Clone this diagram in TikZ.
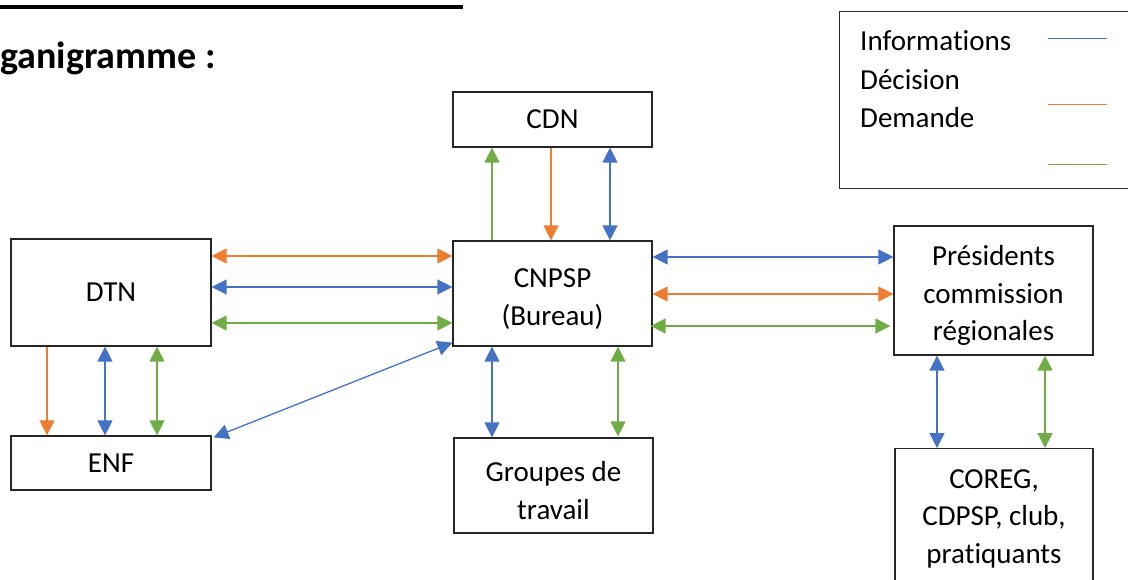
\documentclass[tikz,border=0pt]{standalone}
\usepackage{fontspec}
\setmainfont{Carlito}[Ligatures=NoCommon]
\usetikzlibrary{arrows.meta}
\definecolor{cblue}{HTML}{4472C4}
\definecolor{corange}{HTML}{ED7D31}
\definecolor{cgreen}{HTML}{70AD47}
\tikzset{
  box/.style={draw=black!85, line width=1.2pt, inner sep=0pt, align=center,
    font=\fontsize{29}{37.5}\selectfont},
  tip/.style={-{Triangle[length=15pt,width=15pt]}},
  dtip/.style={{Triangle[length=15pt,width=15pt]}-{Triangle[length=15pt,width=15pt]}},
  lb/.style={draw=cblue, line width=1.3pt},
  lo/.style={draw=corange, line width=1.3pt},
  lg/.style={draw=cgreen, line width=1.3pt},
  legtext/.style={anchor=west, inner sep=0pt, font=\fontsize{29}{36}\selectfont},
}
\begin{document}
\begin{tikzpicture}[x=1pt,y=-1pt]
\useasboundingbox (0,0) rectangle (1128,580);
% top rule and title
\coordinate (r1) at (0,7);
\coordinate (r2) at (463,7);
\draw[line width=4.5pt] (r1) -- (r2);
\node[anchor=base west, inner sep=0pt, font=\fontsize{38}{40}\selectfont\bfseries] (title) at (0,69) {ganigramme :};
% legend
\node[draw=black!85, line width=1.2pt, minimum width=300pt, minimum height=177pt, inner sep=0pt, anchor=north west] (leg) at (839,11) {};
\node[legtext] (li) at (860,41) {Informations};
\node[legtext] (ld) at (860,80) {Décision};
\node[legtext] (lde) at (860,118) {Demande};
\coordinate (lb1) at (1048,39); \coordinate (lb2) at (1107,39);
\coordinate (lo1) at (1048,105); \coordinate (lo2) at (1107,105);
\coordinate (lg1) at (1048,165); \coordinate (lg2) at (1107,165);
\draw[lb, line width=1pt] (lb1) -- (lb2);
\draw[lo, line width=1pt] (lo1) -- (lo2);
\draw[lg, line width=1pt] (lg1) -- (lg2);
% boxes
\node[box, minimum width=199pt, minimum height=55pt] (cdn) at (552.5,119.5) {CDN};
\node[box, minimum width=199pt, minimum height=105pt] (cnpsp) at (552.5,293.5) {\rule{0pt}{30pt}CNPSP\\(Bureau)};
\node[box, minimum width=200pt, minimum height=107pt] (dtn) at (111,292.5) {DTN};
\node[box, minimum width=200pt, minimum height=54pt] (enf) at (111,463) {ENF};
\node[box, minimum width=199pt, minimum height=95pt] (grp) at (553.5,485.5) {\rule{0pt}{30pt}Groupes de\\travail};
\node[box, minimum width=199pt, minimum height=129pt] (pres) at (993.5,290.5) {\rule{0pt}{30pt}Présidents\\commission\\régionales};
\node[box, minimum width=198pt, minimum height=140pt, anchor=north] (coreg) at (994,448) {COREG,\\CDPSP, club,\\pratiquants};
% CDN <-> CNPSP
\draw[lg, tip] (cnpsp.north -| 492,0) -- (cdn.south -| 492,0);
\draw[lo, tip] (cdn.south -| 551,0) -- (cnpsp.north -| 551,0);
\draw[lb, dtip] (cdn.south -| 610,0) -- (cnpsp.north -| 610,0);
% DTN <-> CNPSP
\draw[lo, dtip] (dtn.east |- 0,256) -- (cnpsp.west |- 0,256);
\draw[lb, dtip] (dtn.east |- 0,287) -- (cnpsp.west |- 0,287);
\draw[lg, dtip] (dtn.east |- 0,323) -- (cnpsp.west |- 0,323);
% CNPSP <-> Presidents
\draw[lb, dtip] (cnpsp.east |- 0,257) -- (pres.west |- 0,257);
\draw[lo, dtip] (cnpsp.east |- 0,294) -- (pres.west |- 0,294);
\draw[lg, dtip] ([xshift=-2pt]cnpsp.east |- 0,326) -- ([xshift=-3pt]pres.west |- 0,326);
% DTN <-> ENF
\draw[lo, tip] (dtn.south -| 47,0) -- (enf.north -| 47,0);
\draw[lb, dtip] (dtn.south -| 105,0) -- (enf.north -| 105,0);
\draw[lg, dtip] (dtn.south -| 157,0) -- (enf.north -| 157,0);
% CNPSP <-> ENF
\draw[lb, dtip] ([xshift=2pt,yshift=-2pt]enf.north east) -- ([yshift=4pt]cnpsp.south west);
% CNPSP <-> Groupes
\draw[lb, dtip] (cnpsp.south -| 492,0) -- (grp.north -| 492,0);
\draw[lg, dtip] (cnpsp.south -| 618,0) -- ([yshift=1pt]grp.north -| 618,0);
% Presidents <-> COREG
\draw[lb, dtip] (pres.south -| 937,0) -- (coreg.north -| 937,0);
\draw[lg, dtip] (pres.south -| 1045,0) -- (coreg.north -| 1045,0);
\end{tikzpicture}
\end{document}
